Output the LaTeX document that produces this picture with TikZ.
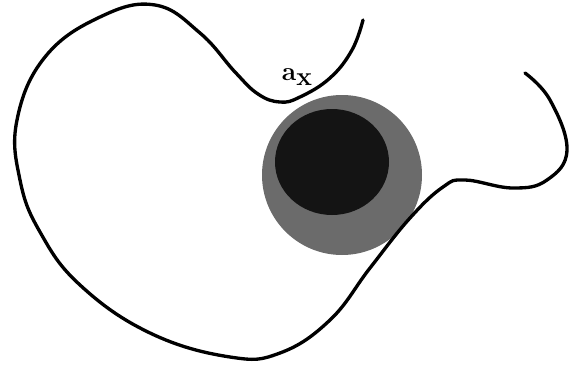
\documentclass[tikz,border=0pt]{standalone}
\usepackage{tikz}
\usetikzlibrary{positioning}
\tikzset{
	boundary/.style={draw, line width=1.9pt, line cap=round, line join=round},
	outerdisk/.style={fill=black!58},
	innerdisk/.style={fill=black!92},
	pointlabel/.style={font=\bfseries\fontsize{15}{15}\selectfont, inner sep=0pt},
}

\begin{document}
\begin{tikzpicture}[x=0.02cm, y=-0.02cm]
		\useasboundingbox (0,0) rectangle (569,365);

		% Disks
		\coordinate (cOut) at (342,175);
		\coordinate (cIn) at (332,162);
		\fill[outerdisk] (cOut) circle[radius=80];
		\fill[innerdisk] (cIn) circle[x radius=57, y radius=53];

		% Boundary curve
		\draw[boundary] plot[smooth, tension=0.7] coordinates {
			(363,20) (352,50) (330,78) (300,97) (280,102) (258,94) (235,72) (200,33)
			(155,5) (100,17) (45,57) (17,120) (20,180) (40,232) (80,285)
			(150,333) (230,357) (280,353) (330,320) (370,268) (410,218) (443,187)
			(465,180) (513,188) (547,180) (567,150) (550,100) (525,73)
		};

		% Label
		\node[pointlabel] (ax) at (297,77) {a\raisebox{-0.5ex}{x}};
	\end{tikzpicture}
\end{document}
